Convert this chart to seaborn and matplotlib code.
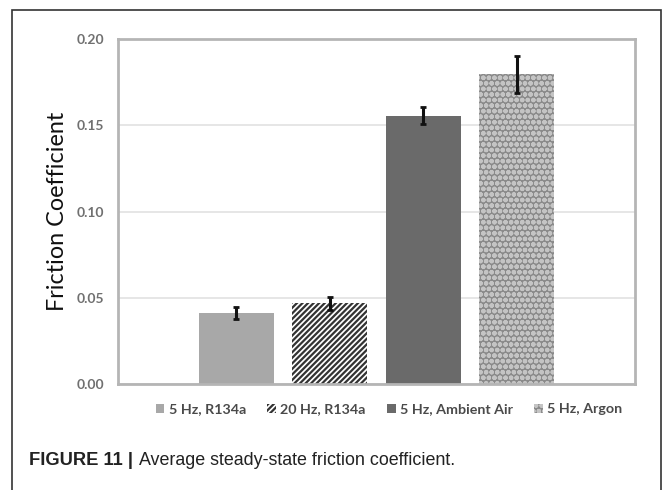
import matplotlib
matplotlib.use('Agg')
import matplotlib.pyplot as plt
import seaborn as sns
import pandas as pd
from matplotlib.patches import Rectangle

# values
conditions = ['5 Hz, R134a', '20 Hz, R134a', '5 Hz, Ambient Air', '5 Hz, Argon']
friction = [0.0413, 0.0467, 0.1555, 0.1795]
friction_err = [0.0036, 0.0040, 0.0050, 0.0105]
bar_colors = ['#a8a8a8', '#ffffff', '#6a6a6a', '#8a8a8a']
bar_hatches = ['', '//////', '', 'ooo']
hatch_colors = ['#a8a8a8', '#333333', '#6a6a6a', '#c4c4c4']
y_ticks = [0.00, 0.05, 0.10, 0.15, 0.20]

df = pd.DataFrame({'group': [''] * len(conditions), 'condition': conditions,
                   'friction': friction})

sns.set_style('white')
plt.rcParams['font.family'] = ['Lato', 'DejaVu Sans']
plt.rcParams['hatch.linewidth'] = 1.6

fig = plt.figure(figsize=(6.71, 4.90), dpi=100)
ax = fig.add_axes([0.176, 0.2163, 0.770, 0.704])

sns.barplot(data=df, x='group', y='friction', hue='condition', hue_order=conditions,
            palette=bar_colors, width=0.724, gap=0.2, errorbar=None, legend=False, ax=ax)

for patch, fc, h, hc in zip(ax.patches, bar_colors, bar_hatches, hatch_colors):
    patch.set_facecolor(fc)
    patch.set_hatch(h)
    patch.set_edgecolor(hc)
    patch.set_linewidth(0)

centers = [p.get_x() + p.get_width() / 2 for p in ax.patches[:len(conditions)]]
ax.errorbar(centers, friction, yerr=friction_err, fmt='none', ecolor='#111111',
            elinewidth=2.2, capsize=2.5, capthick=2)

ax.set_xlim(-0.5, 0.5)
ax.set_ylim(0, 0.20)
ax.set_yticks(y_ticks)
ax.set_yticklabels([f'{t:.2f}' for t in y_ticks], fontsize=10, color='#707070',
                   fontweight='bold')
ax.set_xticks([])
ax.set_xlabel('')
ax.set_ylabel('Friction Coefficient', fontsize=16.8, color='#111111', labelpad=6)
ax.tick_params(axis='y', length=0, pad=10)
ax.yaxis.grid(True, color='#e2e2e2', linewidth=1.2)
ax.set_axisbelow(True)
for s in ax.spines.values():
    s.set_visible(True)
    s.set_color('#b5b5b5')
    s.set_linewidth(2)

# legend below the plot
handles = [Rectangle((0, 0), 1, 1, facecolor=fc, hatch=h, edgecolor=hc, linewidth=0)
           for fc, h, hc in zip(bar_colors, bar_hatches, hatch_colors)]
fig.legend(handles, conditions, loc='center', bbox_to_anchor=(0.58, 0.165), ncol=4,
           frameon=False, handlelength=0.6, handleheight=0.6,
           handletextpad=0.3, columnspacing=1.5, labelcolor='#4a4a4a',
           prop={'weight': 'bold', 'size': 10.3})

# outer frame and caption
fig.patches.append(Rectangle((12 / 671, -0.05), 649 / 671, 1 - 10 / 490 + 0.05,
                             transform=fig.transFigure, fill=False,
                             edgecolor='#333333', linewidth=1.2))
fig.text(29 / 671, 1 - 460 / 490, 'FIGURE 11 |', fontsize=13.2, fontweight='bold',
         family=['Liberation Sans', 'DejaVu Sans'], va='center', color='#222222')
fig.text(139 / 671, 1 - 460 / 490, 'Average steady-state friction coefficient.',
         fontsize=12.9, family=['Liberation Sans', 'DejaVu Sans'], va='center',
         color='#222222')

plt.savefig('out.png', dpi=100)
